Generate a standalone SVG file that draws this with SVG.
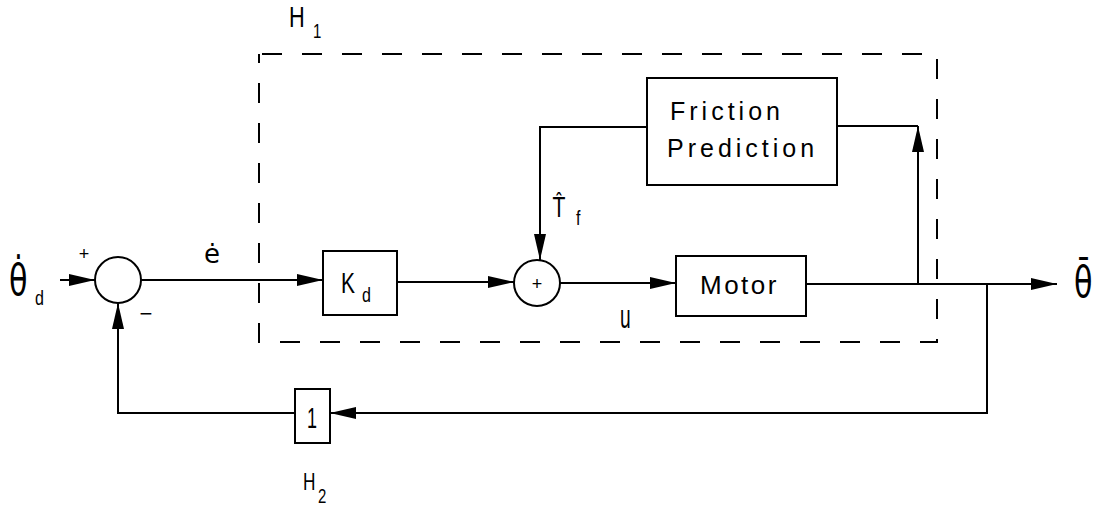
<svg xmlns="http://www.w3.org/2000/svg" width="1109" height="512" viewBox="0 0 1109 512">
<defs>
<marker id="ah" viewBox="0 0 26 12" refX="26" refY="6" markerWidth="26" markerHeight="12" markerUnits="userSpaceOnUse" orient="auto">
<path d="M0,0 L26,6 L0,12 Z" fill="#000"/>
</marker>
<style>
.ln{fill:none;stroke:#000;stroke-width:2}
.bx{fill:#fff;stroke:#000;stroke-width:2}
.t{font-family:"Liberation Sans",Arial,sans-serif;fill:#000}
.sym{font-family:"DejaVu Sans","Liberation Sans",sans-serif;fill:#000}
</style>
</defs>
<rect width="1109" height="512" fill="#fff"/>
<g id="h1-boundary">
<rect x="259" y="54" width="678" height="288" fill="none" stroke="#000" stroke-width="2" stroke-dasharray="20,20" stroke-dashoffset="-3"/>
<text class="t" x="289" y="27" font-size="29" transform="translate(289,0) scale(0.75,1) translate(-289,0)">H</text>
<text class="t" x="313" y="38" font-size="20" transform="translate(313,0) scale(0.75,1) translate(-313,0)">1</text>
</g>
<g id="connectors">
<line class="ln" x1="60" y1="280" x2="95" y2="280" marker-end="url(#ah)"/>
<line class="ln" x1="141" y1="280" x2="323" y2="280" marker-end="url(#ah)"/>
<line class="ln" x1="397" y1="282" x2="514" y2="282" marker-end="url(#ah)"/>
<line class="ln" x1="560" y1="283" x2="676" y2="283" marker-end="url(#ah)"/>
<line class="ln" x1="806" y1="284" x2="1057" y2="284" marker-end="url(#ah)"/>
<polyline class="ln" points="918,284 918,126" marker-end="url(#ah)"/>
<polyline class="ln" points="837,126 918,126"/>
<polyline class="ln" points="647,127 540,127 540,260" marker-end="url(#ah)"/>
<polyline class="ln" points="987,284 987,413 330,413" marker-end="url(#ah)"/>
<polyline class="ln" points="295,413 118,413 118,303" marker-end="url(#ah)"/>
</g>
<g id="sum1">
<circle class="bx" cx="118" cy="280" r="23"/>
<text class="t" x="84" y="260" font-size="18" text-anchor="middle">+</text>
<text class="t" x="146" y="321" font-size="22" text-anchor="middle">−</text>
</g>
<g id="input-label">
<text class="sym" x="9" y="295" font-size="42" transform="translate(9,0) scale(0.72,1) translate(-9,0)">θ̇</text>
<text class="t" x="35" y="305" font-size="20" transform="translate(35,0) scale(0.8,1) translate(-35,0)">d</text>
</g>
<g id="e-label">
<text class="sym" x="204" y="263" font-size="26">ė</text>
</g>
<g id="kd">
<rect class="bx" x="323" y="251" width="74" height="64"/>
<text class="t" x="341" y="293" font-size="30" transform="translate(341,0) scale(0.7,1) translate(-341,0)">K</text>
<text class="t" x="362" y="302" font-size="20" transform="translate(362,0) scale(0.8,1) translate(-362,0)">d</text>
</g>
<g id="sum2">
<circle class="bx" cx="537" cy="283" r="23"/>
<text class="t" x="537" y="290" font-size="18" text-anchor="middle">+</text>
</g>
<g id="tf-label">
<text class="sym" x="553" y="217" font-size="26" transform="translate(553,0) scale(0.75,1) translate(-553,0)">T̂</text>
<text class="t" x="576" y="225" font-size="20" transform="translate(576,0) scale(0.8,1) translate(-576,0)">f</text>
</g>
<g id="motor">
<rect class="bx" x="676" y="256" width="130" height="60"/>
<text class="t" x="700" y="294" font-size="26" letter-spacing="2.5">Motor</text>
</g>
<g id="u-label">
<text class="t" x="620" y="328" font-size="24" transform="translate(620,328) scale(0.8,1.4) translate(-620,-328)">u</text>
</g>
<g id="friction">
<rect class="bx" x="647" y="78" width="190" height="107"/>
<text class="t" x="670" y="120" font-size="25" letter-spacing="4">Friction</text>
<text class="t" x="667" y="157" font-size="25" letter-spacing="4">Prediction</text>
</g>
<g id="output-label">
<text class="sym" x="1074" y="297" font-size="42" transform="translate(1074,0) scale(0.72,1) translate(-1074,0)">θ̄</text>
</g>
<g id="h2">
<rect class="bx" x="295" y="389" width="35" height="54"/>
<text class="t" x="312" y="428" font-size="30" text-anchor="middle" transform="translate(312,0) scale(0.6,1) translate(-312,0)">1</text>
<text class="t" x="303" y="490" font-size="23" transform="translate(303,0) scale(0.75,1) translate(-303,0)">H</text>
<text class="t" x="318" y="503" font-size="20" transform="translate(318,0) scale(0.75,1) translate(-318,0)">2</text>
</g>
</svg>
